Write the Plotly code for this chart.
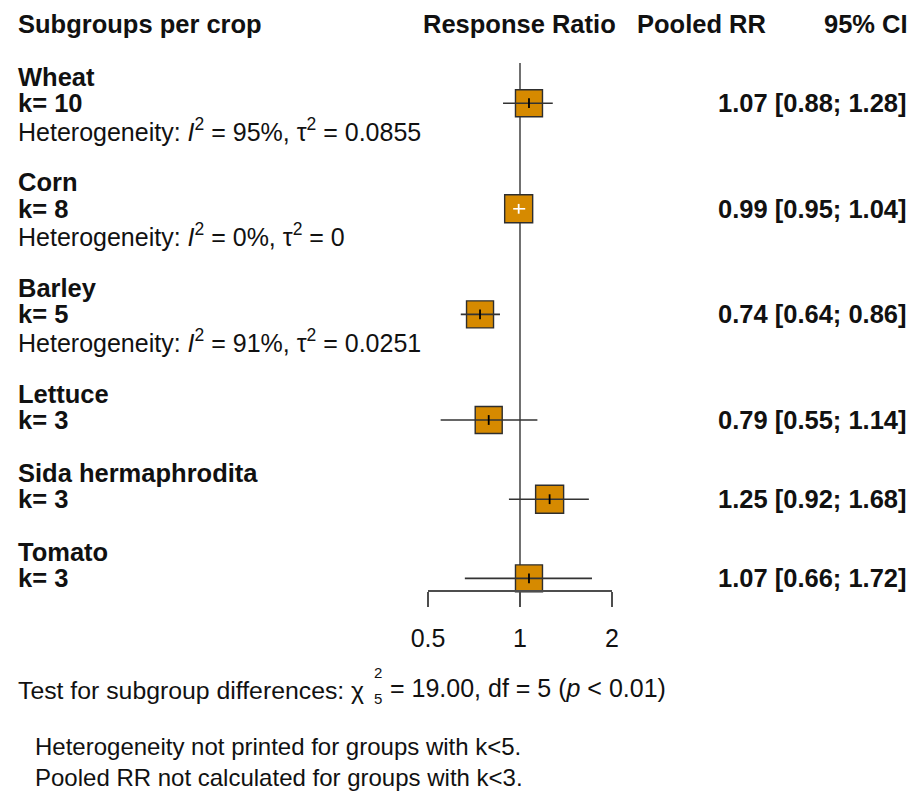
"""Forest plot: pooled response ratio per crop subgroup."""

import math

import plotly.graph_objects as go

# data
crops = ["Wheat", "Corn", "Barley", "Lettuce", "Sida hermaphrodita", "Tomato"]
k_studies = [10, 8, 5, 3, 3, 3]
pooled_rr = [1.07, 0.99, 0.74, 0.79, 1.25, 1.07]
ci_low = [0.88, 0.95, 0.64, 0.55, 0.92, 0.66]
ci_high = [1.28, 1.04, 0.86, 1.14, 1.68, 1.72]
i2_pct = [95, 0, 91, None, None, None]
tau2 = ["0.0855", "0", "0.0251", None, None, None]
tick_vals = [0.5, 1, 2]
tick_text = ["0.5", "1", "2"]

# layout helpers: positions are given in pixels of the 921x799 page,
# the html body adds an 8 px margin so the figure itself is smaller
W, H = 921, 799
OFF = 8
FW, FH = W - 2 * OFF, H - 2 * OFF
LINE0, LINE_H = 24, 26.4
name_line = [2, 6, 10, 14, 17, 20]
box_px = [27, 28, 27, 27, 28, 27]

BOX = "#D68A00"
EDGE = "#2e2e2e"
INK = "#111111"
GREY = "#4d4d4d"
FONT = "Liberation Sans, Arial, sans-serif"
BOLD = 25.5
REG = 25


def px(x):
    return (x - OFF) / FW


def line_of(y_px):
    return (y_px - LINE0) / LINE_H


fig = go.Figure()

# reference line at RR = 1 (behind the boxes)
fig.add_shape(
    type="line", xref="x", yref="y", x0=1, x1=1,
    y0=line_of(63), y1=line_of(591),
    line=dict(color=GREY, width=1.6), layer="below",
)

# boxes
est_line = [n + 1 for n in name_line]
fig.add_trace(
    go.Scatter(
        x=pooled_rr, y=est_line, mode="markers",
        marker=dict(symbol="square", size=box_px, color=BOX, opacity=1,
                    line=dict(color=EDGE, width=1.4)),
        hoverinfo="skip", showlegend=False,
    )
)

# confidence intervals and estimate ticks, white when hidden inside the box
px_per_log2 = 184 / 2
for est, lo, hi, yl, size in zip(pooled_rr, ci_low, ci_high, est_line, box_px):
    half = 2 ** ((size / 2) / px_per_log2)
    inside = lo > est / half and hi < est * half
    col = "white" if inside else "#333333"
    fig.add_trace(
        go.Scatter(
            x=[lo, hi], y=[yl, yl], mode="lines",
            line=dict(color=col, width=1.6),
            hoverinfo="skip", showlegend=False,
        )
    )
    fig.add_trace(
        go.Scatter(
            x=[est], y=[yl], mode="markers",
            marker=dict(symbol="line-ns", size=7,
                        line=dict(color="white" if inside else "black", width=1.8)),
            hoverinfo="skip", showlegend=False,
        )
    )

annotations = []


def add_text(text, x, y, anchor="left", size=REG):
    annotations.append(
        dict(text=text, xref="paper", yref="y", x=px(x), y=y, xanchor=anchor,
             yanchor="middle", showarrow=False,
             font=dict(family=FONT, size=size, color=INK))
    )


# header row
add_text("<b>Subgroups per crop</b>", 16, 0, size=BOLD)
add_text("<b>Response Ratio</b>", 519, 0, anchor="center", size=BOLD)
add_text("<b>Pooled RR</b>", 768, 0, anchor="right", size=BOLD)
add_text("<b>95% CI</b>", 910, 0, anchor="right", size=BOLD)

# subgroup rows
for crop, k, est, lo, hi, i2, t2, nl in zip(
    crops, k_studies, pooled_rr, ci_low, ci_high, i2_pct, tau2, name_line
):
    add_text(f"<b>{crop}</b>", 16, nl, size=BOLD)
    add_text(f"<b>k= {k}</b>", 16, nl + 1, size=BOLD)
    if i2 is not None:
        add_text(
            f"Heterogeneity: <i>I</i><sup>2</sup> = {i2}%, τ<sup>2</sup> = {t2}",
            16, nl + 2,
        )
    add_text(f"<b>{est:.2f} [{lo:.2f}; {hi:.2f}]</b>", 909, nl + 1,
             anchor="right", size=BOLD)

# test for subgroup differences (chi-square with stacked super/subscript)
add_text("Test for subgroup differences: χ", 16, line_of(690), size=24.8)
add_text("2", 372, line_of(672), size=15)
add_text("5", 372, line_of(698), size=15)
add_text("= 19.00, df = 5 (<i>p</i> &lt; 0.01)", 388, line_of(688), size=25)

# footnotes
add_text("Heterogeneity not printed for groups with k&lt;5.", 33, line_of(746), size=24)
add_text("Pooled RR not calculated for groups with k&lt;3.", 33, line_of(777), size=24)

fig.update_layout(
    width=FW, height=FH,
    margin=dict(l=0, r=0, t=0, b=0),
    paper_bgcolor="white", plot_bgcolor="white",
    font=dict(family=FONT, size=REG, color=INK),
    showlegend=False,
    annotations=annotations,
    xaxis=dict(
        type="log",
        range=[math.log10(0.5), math.log10(2)],
        domain=[px(428), px(612)],
        anchor="free", position=1 - (591 - OFF) / FH,
        showline=True, linecolor=GREY, linewidth=1.6,
        ticks="outside", ticklen=15, tickwidth=1.6, tickcolor=GREY,
        tickvals=tick_vals, ticktext=tick_text,
        tickfont=dict(family=FONT, size=REG, color=INK),
        ticklabelstandoff=10,
        showgrid=False, zeroline=False, automargin=False,
        fixedrange=True,
    ),
    yaxis=dict(
        range=[line_of(H - OFF), line_of(OFF)],
        domain=[0, 1],
        visible=False, showgrid=False, zeroline=False,
        fixedrange=True,
    ),
)

fig.write_html("out.html")
